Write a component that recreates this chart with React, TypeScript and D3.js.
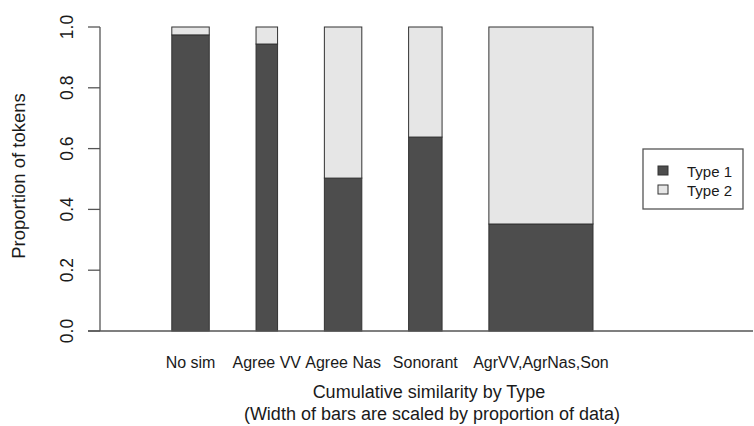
import React, { useEffect, useRef } from 'react';
import * as d3 from 'd3';

// data
const categories = ['No sim', 'Agree VV', 'Agree Nas', 'Sonorant', 'AgrVV,AgrNas,Son'];
const type1 = [0.974, 0.944, 0.503, 0.638, 0.352];
const type2 = [0.026, 0.056, 0.497, 0.362, 0.648];
// bar widths = proportion of data
const barWidths = [0.16, 0.092, 0.16, 0.143, 0.445];
const yTicks = [0, 0.2, 0.4, 0.6, 0.8, 1.0];
const seriesNames = ['Type 1', 'Type 2'];
const seriesColors = ['#4d4d4d', '#e6e6e6'];

const W = 754;
const H = 426;
const font = "'Liberation Sans', Arial, Helvetica, sans-serif";

const draw = (node: SVGSVGElement) => {
	const svg = d3.select(node);
	svg.selectAll('*').remove();

	// spacing between bars like R barplot: space * mean(width)
	const gap = 1 * d3.mean(barWidths)!;
	let acc = 0;
	const bars = categories.map((c, i) => {
		const x0 = acc + gap;
		acc = x0 + barWidths[i];
		return { cat: c, x0, x1: acc, t1: type1[i], t2: type2[i] };
	});

	const x = d3.scaleLinear().domain([0, acc]).range([125, 593]);
	const y = d3.scaleLinear().domain([0, 1]).range([331, 27]);

	const g = svg.append('g');

	// Type 1 (bottom)
	g.selectAll('rect.t1').data(bars).enter().append('rect')
		.attr('class', 't1')
		.attr('x', d => x(d.x0))
		.attr('width', d => x(d.x1) - x(d.x0))
		.attr('y', d => y(d.t1))
		.attr('height', d => y(0) - y(d.t1))
		.attr('fill', seriesColors[0])
		.attr('stroke', '#333')
		.attr('stroke-width', 1);

	// Type 2 (stacked on top)
	g.selectAll('rect.t2').data(bars).enter().append('rect')
		.attr('class', 't2')
		.attr('x', d => x(d.x0))
		.attr('width', d => x(d.x1) - x(d.x0))
		.attr('y', d => y(d.t1 + d.t2))
		.attr('height', d => y(d.t1) - y(d.t1 + d.t2))
		.attr('fill', seriesColors[1])
		.attr('stroke', '#333')
		.attr('stroke-width', 1);

	// category labels
	g.selectAll('text.cat').data(bars).enter().append('text')
		.attr('class', 'cat')
		.attr('x', d => x((d.x0 + d.x1) / 2))
		.attr('y', 368)
		.attr('text-anchor', 'middle')
		.attr('font-family', font)
		.attr('font-size', '16px')
		.attr('fill', '#1a1a1a')
		.text(d => d.cat);

	// horizontal base line
	g.append('line')
		.attr('x1', 88).attr('x2', 753)
		.attr('y1', y(0)).attr('y2', y(0))
		.attr('stroke', '#555').attr('stroke-width', 1.3);

	// y axis
	const yAxis = g.append('g').attr('transform', 'translate(100,0)');
	yAxis.append('line')
		.attr('x1', 0).attr('x2', 0)
		.attr('y1', y(0)).attr('y2', y(1))
		.attr('stroke', '#555').attr('stroke-width', 1.3);
	yAxis.selectAll('line.tick').data(yTicks).enter().append('line')
		.attr('class', 'tick')
		.attr('x1', -12).attr('x2', 0)
		.attr('y1', d => y(d)).attr('y2', d => y(d))
		.attr('stroke', '#555').attr('stroke-width', 1.3);
	yAxis.selectAll('text').data(yTicks).enter().append('text')
		.attr('transform', d => `translate(-27,${y(d)}) rotate(-90)`)
		.attr('text-anchor', 'middle')
		.attr('font-family', font)
		.attr('font-size', '17.5px')
		.attr('fill', '#1a1a1a')
		.text(d => d3.format('.1f')(d));

	// axis titles
	svg.append('text')
		.attr('transform', `translate(25,${y(0.5) - 3}) rotate(-90)`)
		.attr('text-anchor', 'middle')
		.attr('font-family', font)
		.attr('font-size', '18.5px')
		.attr('fill', '#1a1a1a')
		.text('Proportion of tokens');

	const xt = svg.append('text')
		.attr('text-anchor', 'middle')
		.attr('font-family', font)
		.attr('font-size', '18px')
		.attr('fill', '#1a1a1a');
	xt.append('tspan').attr('x', 429).attr('y', 398).text('Cumulative similarity by Type');
	xt.append('tspan').attr('x', 432).attr('y', 420).text('(Width of bars are scaled by proportion of data)');

	// legend
	const lg = svg.append('g').attr('transform', 'translate(643,149)');
	lg.append('rect')
		.attr('width', 100).attr('height', 60)
		.attr('fill', 'white')
		.attr('stroke', '#555').attr('stroke-width', 1.3);
	const items = lg.selectAll('g.item').data(seriesNames).enter().append('g')
		.attr('class', 'item')
		.attr('transform', (d, i) => `translate(0,${23 + i * 19})`);
	items.append('rect')
		.attr('x', 15).attr('y', -6)
		.attr('width', 10).attr('height', 9)
		.attr('fill', (d, i) => seriesColors[i])
		.attr('stroke', '#333').attr('stroke-width', 1);
	items.append('text')
		.attr('x', 44).attr('y', 5)
		.attr('font-family', font)
		.attr('font-size', '15px')
		.attr('fill', '#1a1a1a')
		.text(d => d);
};

export default function App() {
	const ref = useRef<SVGSVGElement>(null);
	useEffect(() => {
		if (ref.current) draw(ref.current);
	}, []);
	return (
		<svg ref={ref} width={W} height={H}
			style={{ position: 'absolute', left: 0, top: 0, background: 'white' }} />
	);
}
